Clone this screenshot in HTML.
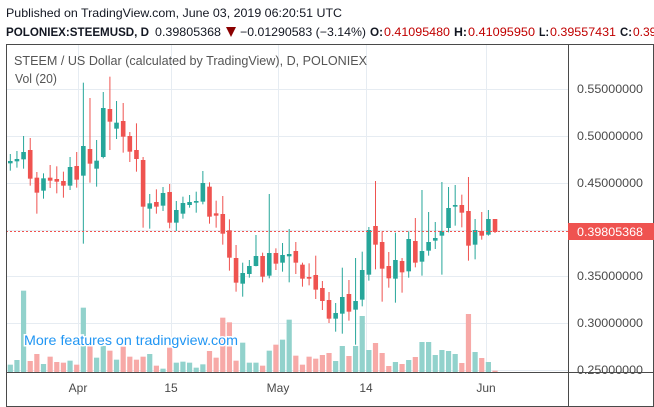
<!DOCTYPE html>
<html><head><meta charset="utf-8"><style>
html,body{margin:0;padding:0;background:#fff;width:654px;height:407px;overflow:hidden}
svg{display:block;font-family:"Liberation Sans",sans-serif}
</style></head><body>
<svg id="s" width="654" height="407" viewBox="0 0 654 407" xmlns="http://www.w3.org/2000/svg">
<rect width="654" height="407" fill="#fff"/>
<text x="6" y="17" font-size="12" fill="#131722" textLength="336" lengthAdjust="spacingAndGlyphs">Published on TradingView.com, June 03, 2019 06:20:51 UTC</text>
<g font-size="12" font-weight="normal">
<text x="6" y="36" font-weight="bold" fill="#131722" textLength="143" lengthAdjust="spacingAndGlyphs">POLONIEX:STEEMUSD, D</text>
<text x="155" y="36" fill="#131722" textLength="66" lengthAdjust="spacingAndGlyphs">0.39805368</text>
<polygon points="226,27 236,27 231,37" fill="#8b0000"/>
<text x="240" y="36" fill="#131722" textLength="126" lengthAdjust="spacingAndGlyphs">−0.01290583 (−3.14%)</text>
<text x="370" y="36" font-weight="bold" fill="#131722" textLength="13" lengthAdjust="spacingAndGlyphs">O:</text>
<text x="384" y="36" fill="#c00000" textLength="66" lengthAdjust="spacingAndGlyphs">0.41095480</text>
<text x="454" y="36" font-weight="bold" fill="#131722" textLength="13" lengthAdjust="spacingAndGlyphs">H:</text>
<text x="468" y="36" fill="#c00000" textLength="67" lengthAdjust="spacingAndGlyphs">0.41095950</text>
<text x="539" y="36" font-weight="bold" fill="#131722" textLength="10" lengthAdjust="spacingAndGlyphs">L:</text>
<text x="550" y="36" fill="#c00000" textLength="66" lengthAdjust="spacingAndGlyphs">0.39557431</text>
<text x="620" y="36" font-weight="bold" fill="#131722" textLength="12" lengthAdjust="spacingAndGlyphs">C:</text>
<text x="633" y="36" fill="#c00000">0.39805368</text>
</g>
<g id="grid" stroke="#e6ecf2" stroke-width="1"></g>
<g id="vol"></g>
<g id="cnd"></g>
<line x1="6" y1="231.5" x2="568" y2="231.5" stroke="#ef5350" stroke-dasharray="2,2"/>
<rect x="6.5" y="44.5" width="647" height="362" fill="none" stroke="#4a4a4a"/>
<line x1="568.5" y1="44" x2="568.5" y2="407" stroke="#4a4a4a"/>
<line x1="6" y1="372.5" x2="654" y2="372.5" stroke="#4a4a4a"/>
<text x="14" y="65" font-size="13" fill="#555" textLength="353" lengthAdjust="spacingAndGlyphs">STEEM / US Dollar (calculated by TradingView), D, POLONIEX</text>
<text x="15" y="83" font-size="13" fill="#555" textLength="42" lengthAdjust="spacingAndGlyphs">Vol (20)</text>
<text x="24" y="345" font-size="14" fill="#2196f3" stroke="#fff" stroke-width="3" paint-order="stroke" textLength="214" lengthAdjust="spacingAndGlyphs">More features on tradingview.com</text>
<g id="pl" font-size="12" fill="#4a4a4a"></g>
<rect x="568" y="223" width="86" height="17" fill="#ef5350"/>
<text x="577" y="236" font-size="12" fill="#fff" textLength="66" lengthAdjust="spacingAndGlyphs">0.39805368</text>
<g font-size="12" fill="#4a4a4a" text-anchor="middle">
<text x="78" y="392">Apr</text><text x="171" y="392">15</text><text x="278" y="392">May</text><text x="366" y="392">14</text><text x="486" y="392">Jun</text>
</g>
</svg>
<script>
var NS="http://www.w3.org/2000/svg";
function el(p,t,a){var e=document.createElementNS(NS,t);for(var k in a)e.setAttribute(k,a[k]);p.appendChild(e);return e;}
var g=document.getElementById('grid');
[89,136,183,230,276,323,370].forEach(function(y){el(g,'line',{x1:7,x2:568,y1:y+.5,y2:y+.5});});
[78,171,278,366,486].forEach(function(x){el(g,'line',{x1:x+.5,x2:x+.5,y1:45,y2:372});});
var pl=document.getElementById('pl');
[[89,'0.55000000'],[136,'0.50000000'],[183,'0.45000000'],[276,'0.35000000'],[323,'0.30000000'],[370,'0.25000000']].forEach(function(a){var t=el(pl,'text',{x:577,y:a[0]+4,textLength:66,lengthAdjust:'spacingAndGlyphs'});t.textContent=a[1];});
// [color, bodyTop, bodyBot, wickTop, wickBot, volTop] ; zone a: zoom2 (y=70+z/3), zone b: zoom3 (y=150+z/3)
var A=[
['g',273,280,252,302,884],['g',267,274,243,293,870],['g',246,268,198,296,662],['r',240,326,204,347,873],
['r',323,368,306,431,852],['g',325,362,310,386,882],['r',323,332,285,354,860],['r',327,335,289,370,876],
['r',333,347,305,383,878],['g',291,347,261,360,872],['r',288,329,246,353,884],['g',228,317,38,521,713],
['r',237,281,84,338,825],['g',272,296,210,350,863],['g',114,261,66,265,828],['r',117,155,20,240,842],
['g',158,176,93,207,869],['r',153,200,99,248,830],['r',198,245,186,276,860],['r',240,267,160,305,869],
['r',270,410,261,473,860],['g',400,416,372,476,852],['r',396,410,358,431,887],['g',369,407,351,423,896],
['r',366,458,342,475,833],['g',420,458,393,483,878],['g',399,431,380,446,875],['g',396,405,375,413,878],
['g',393,398,365,428,893],['g',339,395,303,403,883],['r',350,440,337,461,843],['r',430,437,392,473,863],
['r',432,491,378,524,743],['r',481,563,448,602,757],['r',564,638,525,665,872],['g',609,641,578,680,818],
['g',588,612,570,623,878],['g',558,588,495,589,878],['r',558,620,548,637,887],['g',549,617,372,625,842],
['r',549,581,535,600,824],['g',555,578,519,605,809],['g',552,559,477,637,749],['r',543,578,516,612,857],
['r',584,626,578,650,884],['r',621,626,580,646,860],['r',615,659,557,687,866]];
var B=[
['r',414,453,393,480,615],['r',450,506,426,519,609],['g',489,506,459,545,633],['g',441,491,353,551,588],
['r',432,485,390,512,618],['g',453,479,324,584,588],['g',360,449,305,469,498],['g',240,374,231,392,600],
['r',228,284,93,358,579],['r',276,356,244,455,609],['r',348,385,306,413,648],['g',330,386,248,458,636],
['r',333,367,324,428,642],['g',267,364,244,383,630],['r',273,338,204,352,621],['g',303,335,120,377,576],
['g',276,302,186,317,576],['g',264,272,216,297,615],['g',243,257,96,374,600],['g',174,234,111,247,603],
['g',165,170,105,227,612],['r',165,188,134,232,639],['r',183,287,81,332,492],['g',240,284,207,328,606],
['r',243,257,186,269,624],['g',207,254,180,257,636],['r',207,246,207,249,662]];
var D=[];A.forEach(function(c){D.push([c[0],70+c[1]/3,70+c[2]/3,70+c[3]/3,70+c[4]/3,70+c[5]/3]);});
B.forEach(function(c){D.push([c[0],150+c[1]/3,150+c[2]/3,150+c[3]/3,150+c[4]/3,150+c[5]/3]);});
var vg=document.getElementById('vol'),cg=document.getElementById('cnd');
D.forEach(function(c,i){
 var x=10.3+i*6.64;var col=c[0]=='g'?'#26a69a':'#ef5350';var vc=c[0]=='g'?'#92d2cc':'#f7a9a7';
 el(vg,'rect',{x:x-2.6,y:c[5],width:5.2,height:Math.max(372-c[5],1),fill:vc});
 el(cg,'rect',{x:x-0.5,y:c[3],width:1,height:c[4]-c[3],fill:col});
 el(cg,'rect',{x:x-2.3,y:c[1],width:4.6,height:Math.max(c[2]-c[1],1.5),fill:col});
});
</script>
</body></html>
